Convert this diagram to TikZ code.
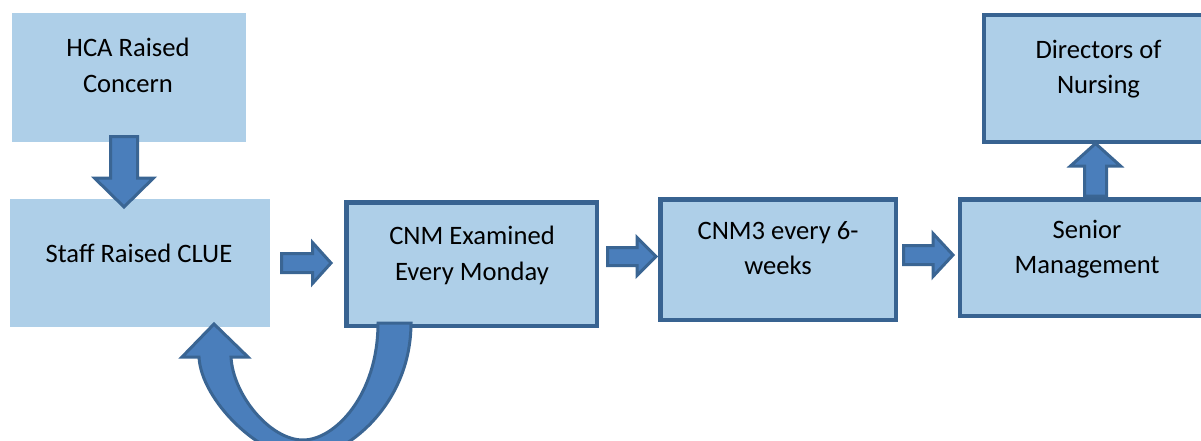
\documentclass[tikz,border=0pt]{standalone}
\usepackage{fontspec}
\setmainfont{Carlito}
\definecolor{boxfill}{HTML}{AECFE8}
\definecolor{boxline}{HTML}{386391}
\definecolor{arrfill}{HTML}{4A7EBB}
\definecolor{arrline}{HTML}{3A6593}
\tikzset{
  plainbox/.style={rectangle, fill=boxfill, inner sep=0pt},
  linedbox/.style={rectangle, fill=boxfill, draw=boxline, line width=4.5pt, inner sep=0pt},
  txt/.style={anchor=base, inner sep=0pt, font=\fontsize{26.6}{36}\selectfont, text=black},
  barrow/.style={fill=arrfill, draw=arrline, line width=3pt, line join=miter},
}
\begin{document}
\begin{tikzpicture}[x=1pt,y=-1pt]
\useasboundingbox (0,0) rectangle (1201,441);
\clip (0,0) rectangle (1201,441);
% boxes
\node[plainbox, minimum width=234pt, minimum height=129pt] (hca) at (129,77.5) {};
\node[plainbox, minimum width=260pt, minimum height=128pt] (staff) at (140,263) {};
\node[linedbox, minimum width=250.5pt, minimum height=123.5pt] (cnm) at (471.5,264) {};
\node[linedbox, minimum width=235.5pt, minimum height=120.5pt] (cnm3) at (778,259.5) {};
\node[linedbox, minimum width=260pt, minimum height=116.5pt] (senior) at (1090,257.5) {};
\node[linedbox, minimum width=236pt, minimum height=126.5pt] (dir) at (1102,78.5) {};
% texts
\node[txt] (hcaA) at (128,57) {HCA Raised};
\node[txt] (hcaB) at (128,93) {Concern};
\node[txt] (staffA) at (139,262) {Staff Raised CLUE};
\node[txt] (cnmA) at (472,244) {CNM Examined};
\node[txt] (cnmB) at (472,280) {Every Monday};
\node[txt] (cnm3A) at (778,239) {CNM3 every 6-};
\node[txt] (cnm3B) at (778,274) {weeks};
\node[txt] (seniorA) at (1087,238) {Senior};
\node[txt] (seniorB) at (1087,273) {Management};
\node[txt] (dirA) at (1098.5,59) {Directors of};
\node[txt] (dirB) at (1098.5,94) {Nursing};
% block arrows
\draw[barrow] (110.5,136.5) -- (137.5,136.5) -- (137.5,178) -- (153.5,178) -- (124,207) -- (94.5,178) -- (110.5,178) -- cycle;
\draw[barrow] (281.5,253.5) -- (312.5,253.5) -- (312.5,242.5) -- (331,263) -- (312.5,283.5) -- (312.5,272.5) -- (281.5,272.5) -- cycle;
\draw[barrow] (607.5,247.5) -- (637,247.5) -- (637,237.5) -- (656,256.5) -- (637,275.5) -- (637,265.5) -- (607.5,265.5) -- cycle;
\draw[barrow] (903.5,245.5) -- (933,245.5) -- (933,233.5) -- (953,255) -- (933,276.5) -- (933,264.5) -- (903.5,264.5) -- cycle;
\draw[barrow] (1084.5,196) -- (1084.5,166) -- (1070.5,166) -- (1095.5,143.5) -- (1120.5,166) -- (1106.5,166) -- (1106.5,196) -- cycle;
% U-turn arrow
\draw[barrow] (378,323) -- (411,323) .. controls (411,405) and (345,458) .. (303,458)
  .. controls (260,458) and (201,400) .. (199,357) -- (182,357) -- (214,324) -- (248,357) -- (231,357)
  .. controls (233,395) and (270,440) .. (303,440) .. controls (335,440) and (378,395) .. (378,323) -- cycle;
\end{tikzpicture}
\end{document}
